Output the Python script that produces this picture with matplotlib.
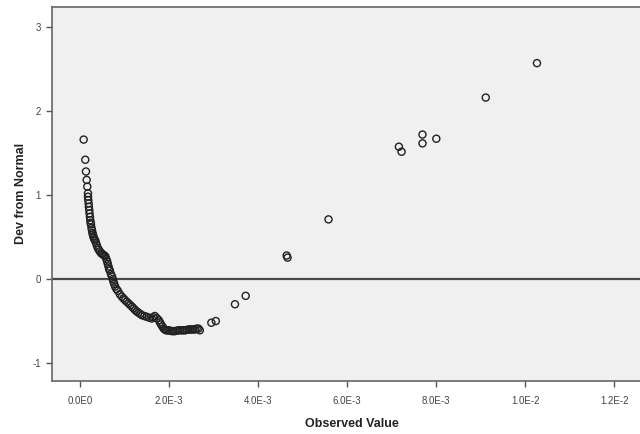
import matplotlib
matplotlib.use("Agg")
import matplotlib.pyplot as plt

observed = [
    0.000083, 0.000119, 0.000135, 0.000150, 0.000164, 0.000180, 0.000180, 0.000186,
    0.000195, 0.000200, 0.000209, 0.000215, 0.000224, 0.000231, 0.000240, 0.000247,
    0.000258, 0.000270, 0.000280, 0.000290, 0.000300, 0.000310, 0.000325, 0.000343,
    0.000360, 0.000380, 0.000400, 0.000420, 0.000445, 0.000470, 0.000495, 0.000520,
    0.000545, 0.000570, 0.000590, 0.000610, 0.000625, 0.000640, 0.000655, 0.000670,
    0.000695, 0.000720, 0.000735, 0.000750, 0.000770, 0.000790, 0.000820, 0.000850,
    0.000895, 0.000940, 0.000975, 0.001010, 0.001050, 0.001090, 0.001130, 0.001170,
    0.001205, 0.001240, 0.001275, 0.001310, 0.001350, 0.001390, 0.001445, 0.001500,
    0.001555, 0.001610, 0.001645, 0.001680, 0.001725, 0.001770, 0.001795, 0.001820,
    0.001850, 0.001880, 0.001905, 0.001930, 0.001960, 0.001990, 0.002025, 0.002060,
    0.002095, 0.002130, 0.002170, 0.002210, 0.002250, 0.002290, 0.002325, 0.002360,
    0.002400, 0.002440, 0.002475, 0.002510, 0.002545, 0.002580, 0.002620, 0.002660,
    0.002690, 0.002950, 0.003050, 0.003480, 0.003720, 0.004640, 0.004660, 0.005580,
    0.007160, 0.007220, 0.007690, 0.007690, 0.008000, 0.009110, 0.010260,
]
dev_from_normal = [
    1.66, 1.42, 1.28, 1.18, 1.10, 1.02, 0.98, 0.94,
    0.90, 0.86, 0.82, 0.78, 0.74, 0.70, 0.67, 0.65,
    0.61, 0.58, 0.55, 0.53, 0.51, 0.49, 0.47, 0.46,
    0.43, 0.40, 0.37, 0.35, 0.33, 0.31, 0.30, 0.29,
    0.28, 0.27, 0.24, 0.21, 0.18, 0.15, 0.12, 0.10,
    0.06, 0.03, 0.00, -0.03, -0.06, -0.09, -0.12, -0.14,
    -0.18, -0.21, -0.23, -0.25, -0.27, -0.29, -0.31, -0.33,
    -0.35, -0.37, -0.385, -0.40, -0.415, -0.43, -0.44, -0.45,
    -0.46, -0.47, -0.455, -0.44, -0.465, -0.49, -0.515, -0.54,
    -0.565, -0.59, -0.60, -0.61, -0.61, -0.61, -0.615, -0.62,
    -0.62, -0.62, -0.615, -0.61, -0.61, -0.61, -0.61, -0.61,
    -0.605, -0.60, -0.60, -0.60, -0.60, -0.60, -0.59, -0.59,
    -0.61, -0.52, -0.50, -0.30, -0.20, 0.28, 0.255, 0.71,
    1.575, 1.515, 1.72, 1.615, 1.67, 2.16, 2.57,
]

x_ticks = [0.0, 0.002, 0.004, 0.006, 0.008, 0.010, 0.012]
x_tick_labels = ["0.0E0", "2.0E-3", "4.0E-3", "6.0E-3", "8.0E-3", "1.0E-2", "1.2E-2"]
y_ticks = [-1, 0, 1, 2, 3]
y_tick_labels = ["-1", "0", "1", "2", "3"]

plt.rcParams['font.family'] = ['Liberation Sans', 'DejaVu Sans']

fig = plt.figure(figsize=(6.4, 4.34), dpi=100)
ax = fig.add_axes([52/640, 53.3/434, (651-52)/640, (380.7-7)/434])
ax.set_facecolor('#f0f0f0')

ax.axhline(0, color='#4a4a4a', linewidth=1.6, zorder=1)
ax.scatter(observed, dev_from_normal, s=26, facecolors='none', edgecolors='#222222',
           linewidths=1.0, zorder=2)

ax.set_xlim(-0.000628, 0.01282)
ax.set_ylim(-1.21, 3.238)

ax.set_xticks(x_ticks)
ax.set_xticklabels(x_tick_labels)
ax.set_yticks(y_ticks)
ax.set_yticklabels(y_tick_labels)
ax.tick_params(axis='both', direction='out', length=4, width=1, color='#555555',
               labelsize=7, labelcolor='#444444')
ax.tick_params(axis='x', pad=7)
ax.tick_params(axis='y', pad=4)

for side in ['left', 'bottom', 'top']:
    ax.spines[side].set_color('#666666')
    ax.spines[side].set_linewidth(1.2)
ax.spines['right'].set_visible(False)

ax.set_xlabel('Observed Value', fontsize=9, fontweight='bold', color='#222222', labelpad=9)
ax.set_ylabel('Dev from Normal', fontsize=9, fontweight='bold', color='#222222', labelpad=4)

fig.savefig('out.png', dpi=100)
